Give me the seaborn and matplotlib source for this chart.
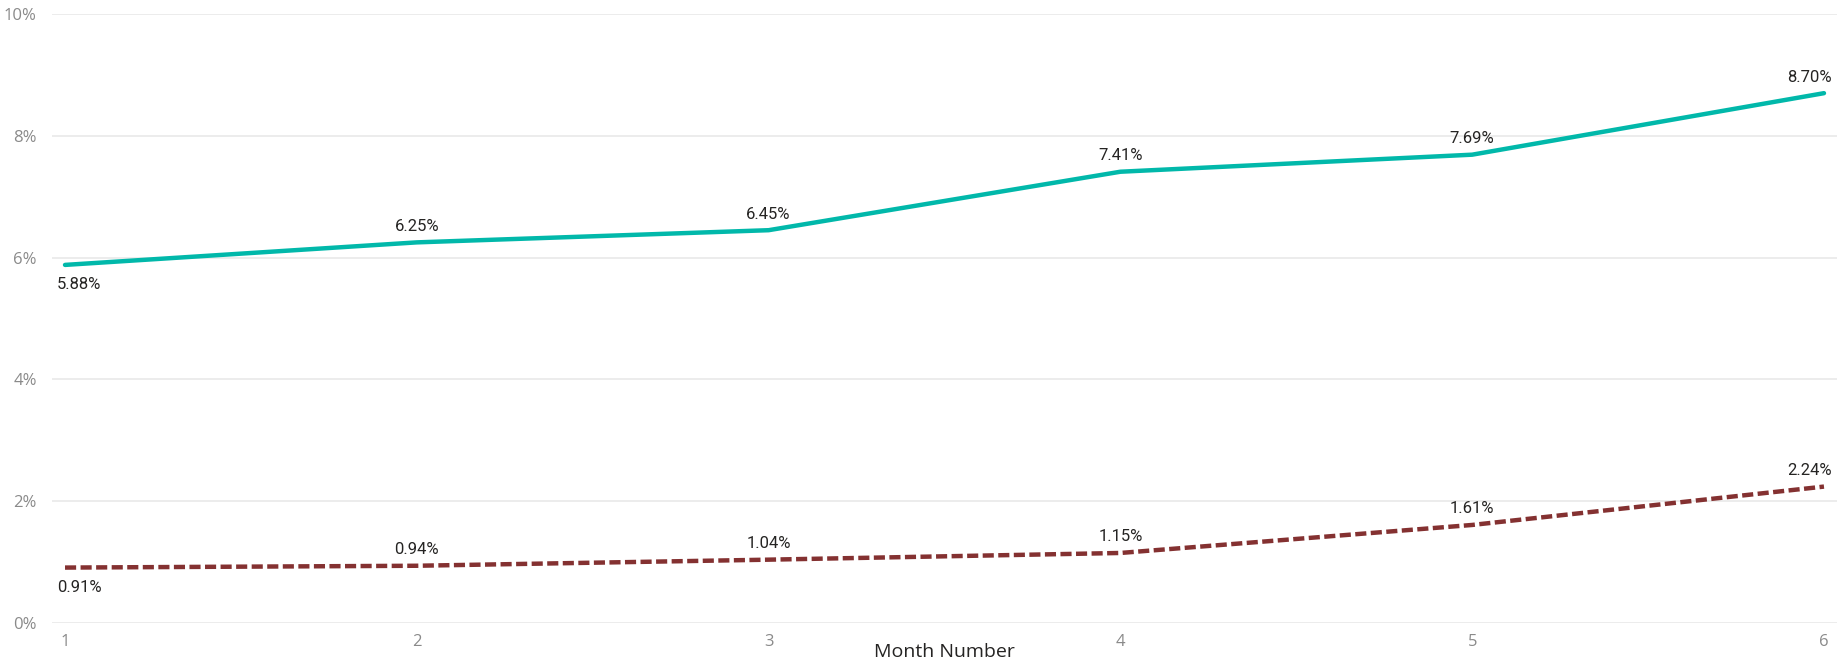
import matplotlib
matplotlib.use("Agg")
import matplotlib.pyplot as plt
from matplotlib.ticker import FuncFormatter
import pandas as pd
import seaborn as sns

# Monthly rates (as fractions) for the two tracked series
months = [1, 2, 3, 4, 5, 6]
upper_rate = [0.0588, 0.0625, 0.0645, 0.0741, 0.0769, 0.0870]
lower_rate = [0.0091, 0.0094, 0.0104, 0.0115, 0.0161, 0.0224]
y_ticks = [0.0, 0.02, 0.04, 0.06, 0.08, 0.10]

df = pd.DataFrame({
    "Month Number": months * 2,
    "rate": upper_rate + lower_rate,
    "series": ["upper"] * len(months) + ["lower"] * len(months),
})

sns.set_theme(style="white")
plt.rcParams["font.family"] = ["Open Sans", "DejaVu Sans"]

fig = plt.figure(figsize=(18.47, 6.65), dpi=100)
ax = fig.add_axes([52 / 1847, 42 / 665, 1785 / 1847, 609 / 665])

palette = {"upper": "#01B8AA", "lower": "#843131"}
sns.lineplot(data=df, x="Month Number", y="rate", hue="series", palette=palette,
             linewidth=3.2, legend=False, ax=ax)

ax.lines[0].set_solid_capstyle("round")
lower_line = ax.lines[1]
lower_line.set_dashes((2.5, 1.0))
lower_line.set_dash_capstyle("butt")

ax.set_xlim(1 - 0.037, 6 + 0.037)
ax.set_ylim(0, 0.10)
ax.set_xticks(months)
ax.set_yticks(y_ticks)
ax.yaxis.set_major_formatter(FuncFormatter(lambda v, _: f"{v * 100:.0f}%"))
ax.grid(axis="y", color="#EBEBEB", linewidth=1.3)
ax.set_axisbelow(True)
for s in ax.spines.values():
    s.set_visible(False)
ax.tick_params(axis="both", length=0, labelsize=12, labelcolor="#8A8A8A")
ax.tick_params(axis="y", pad=11)
ax.tick_params(axis="x", pad=8)
ax.set_ylabel("")
ax.set_xlabel("Month Number", fontsize=14, color="#252423", labelpad=-5)

label_font = ["Roboto", "DejaVu Sans"]


def annotate(values):
    for i, (m, v) in enumerate(zip(months, values)):
        if i == 0:
            off, ha, dx = -20, "left", -8
        elif i == len(months) - 1:
            off, ha, dx = 16, "right", 8
        else:
            off, ha, dx = 16, "center", 0
        ax.annotate(f"{v * 100:.2f}%", (m, v), xytext=(dx * 0.72, off * 0.72),
                    textcoords="offset points", ha=ha, va="center",
                    fontsize=12, color="#252423", family=label_font)


annotate(upper_rate)
annotate(lower_rate)

fig.savefig("out.png", dpi=100)
